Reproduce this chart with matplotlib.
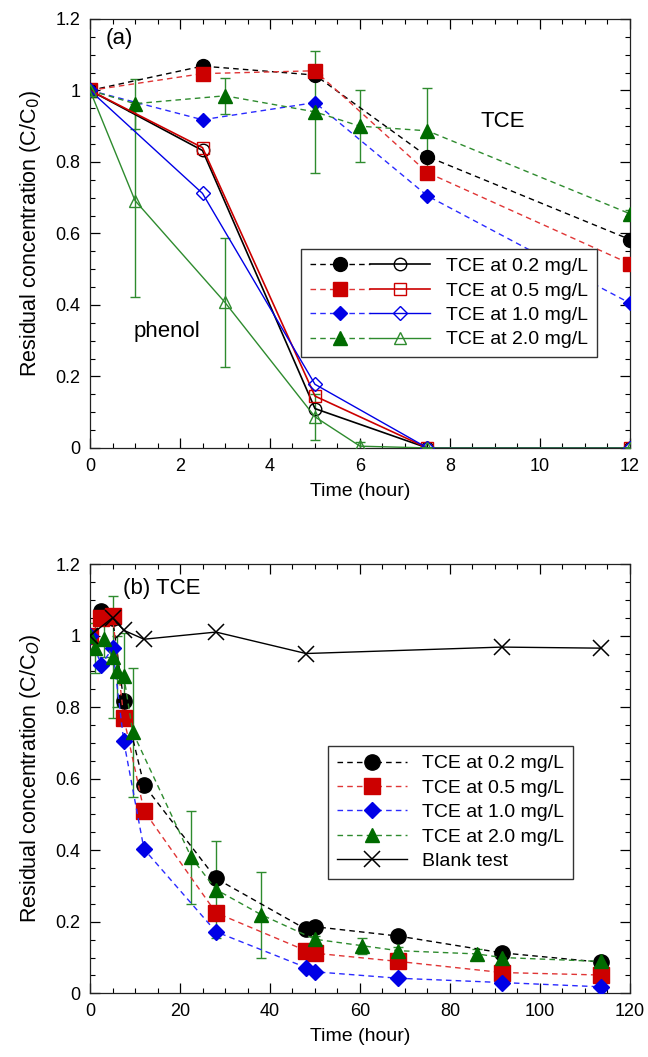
import numpy as np
import matplotlib
matplotlib.use("Agg")
import matplotlib.pyplot as plt
from matplotlib.legend_handler import HandlerTuple
from matplotlib.ticker import MultipleLocator, FormatStrFormatter

plt.rcParams['font.family'] = ['Liberation Sans', 'DejaVu Sans']

# ---- panel (a): TCE and phenol, 0-12 h ----
t_a = [0, 2.5, 5, 7.5, 12]
t_a_green = [0, 1, 3, 5, 6, 7.5, 12]

tce_02 = [1.0, 1.068, 1.043, 0.815, 0.583]
tce_05 = [1.0, 1.047, 1.055, 0.77, 0.515]
tce_10 = [1.0, 0.918, 0.966, 0.705, 0.405]
tce_20 = [1.0, 0.963, 0.985, 0.94, 0.90, 0.887, 0.655]
tce_20_err = [0, 0.07, 0.05, 0.17, 0.10, 0.12, 0.01]

phe_02 = [1.0, 0.832, 0.11, 0.0, 0.0]
phe_05 = [1.0, 0.84, 0.145, 0.0, 0.0]
phe_10 = [1.0, 0.712, 0.178, 0.0, 0.0]
phe_20 = [1.0, 0.692, 0.407, 0.087, 0.005, 0.0, 0.0]
phe_20_err = [0, 0.27, 0.18, 0.065, 0.012, 0, 0]

# ---- panel (b): TCE, 0-120 h ----
t_b = [0, 2.5, 5, 7.5, 12, 28, 48, 50, 68.5, 91.5, 113.5]
b_02 = [1.0, 1.07, 1.05, 0.817, 0.582, 0.321, 0.179, 0.186, 0.16, 0.113, 0.087]
b_05 = [1.0, 1.05, 1.055, 0.771, 0.51, 0.225, 0.119, 0.112, 0.089, 0.058, 0.051]
b_10 = [1.0, 0.918, 0.965, 0.705, 0.403, 0.172, 0.072, 0.06, 0.042, 0.03, 0.018]

t_b_green = [0, 1, 3, 5, 6, 7.5, 9.5, 22.5, 28, 38, 50, 60.5, 68.5, 86, 91.5, 113.5]
b_20 = [1.0, 0.965, 0.99, 0.94, 0.90, 0.888, 0.73, 0.38, 0.29, 0.22, 0.151, 0.133,
        0.119, 0.11, 0.10, 0.089]
b_20_err = [0, 0.07, 0.05, 0.17, 0.10, 0.12, 0.18, 0.13, 0.135, 0.12, 0.01, 0.022,
            0.01, 0.015, 0.005, 0.005]

t_blank = [0, 5, 7.5, 12, 28, 48, 91.5, 113.5]
blank = [1.0, 1.05, 1.015, 0.99, 1.01, 0.95, 0.968, 0.965]

BLACK = 'black'
RED = '#cc0000'
BLUE = '#0000e6'
GREEN = '#006b00'
GREEN_L = '#2e8b2e'
RED_L = '#e03535'
BLUE_L = '#2a2aff'
DASH = (0, (4, 3))


def style_axes(ax, xmaj, xmin, xmax):
    ax.set_xlim(0, xmax)
    ax.set_ylim(0, 1.2)
    ax.xaxis.set_major_locator(MultipleLocator(xmaj))
    ax.xaxis.set_minor_locator(MultipleLocator(xmin))
    ax.yaxis.set_major_locator(MultipleLocator(0.2))
    ax.yaxis.set_minor_locator(MultipleLocator(0.05))
    ax.yaxis.set_major_formatter(FormatStrFormatter('%g'))
    ax.xaxis.set_major_formatter(FormatStrFormatter('%g'))
    ax.tick_params(which='both', direction='in', top=True, right=True, labelsize=13)
    ax.tick_params(which='major', length=7, width=0.9, pad=7)
    ax.tick_params(which='minor', length=3.5, width=0.8)
    for s in ax.spines.values():
        s.set_linewidth(0.9)
        s.set_color('#222222')
    ax.set_xlabel('Time (hour)', fontsize=14, labelpad=6)


fig = plt.figure(figsize=(6.48, 10.57), dpi=100)
ax1 = fig.add_axes([0.1389, 0.5762, 0.8333, 0.4059])
ax2 = fig.add_axes([0.1389, 0.0603, 0.8333, 0.4060])

# ---------- panel (a) ----------
ms_f, ms_o = 10, 9
l02, = ax1.plot(t_a, tce_02, ls=DASH, color=BLACK, lw=1, marker='o', ms=ms_f, mfc=BLACK, mec=BLACK, zorder=4)
l05, = ax1.plot(t_a, tce_05, ls=DASH, color=RED_L, lw=1, marker='s', ms=ms_f - 0.5, mfc=RED, mec=RED, zorder=4)
l10, = ax1.plot(t_a, tce_10, ls=DASH, color=BLUE_L, lw=1, marker='D', ms=ms_f - 2.5, mfc=BLUE, mec=BLUE, zorder=4)
ax1.errorbar(t_a_green, tce_20, yerr=tce_20_err, fmt='none', ecolor=GREEN_L, elinewidth=1, capsize=3.5, zorder=3)
l20, = ax1.plot(t_a_green, tce_20, ls=DASH, color=GREEN_L, lw=1, marker='^', ms=ms_f, mfc=GREEN, mec=GREEN, zorder=4)

p02, = ax1.plot(t_a, phe_02, '-', color=BLACK, lw=1.2, marker='o', ms=ms_o, mfc='none', mec=BLACK, mew=1, zorder=4)
p05, = ax1.plot(t_a, phe_05, '-', color=RED, lw=1.2, marker='s', ms=ms_o - 0.5, mfc='none', mec=RED, mew=1, zorder=4)
p10, = ax1.plot(t_a, phe_10, '-', color=BLUE, lw=1, marker='D', ms=ms_o - 2, mfc='none', mec=BLUE, mew=1, zorder=4)
ax1.errorbar(t_a_green, phe_20, yerr=phe_20_err, fmt='none', ecolor=GREEN_L, elinewidth=1, capsize=3.5, zorder=3)
p20, = ax1.plot(t_a_green, phe_20, '-', color=GREEN_L, lw=1, marker='^', ms=ms_o, mfc='none', mec=GREEN_L, mew=1, zorder=4)

style_axes(ax1, 2, 0.5, 12)
ax1.set_ylabel('Residual concentration (C/C$_0$)', fontsize=15.5, labelpad=9)
ax1.text(0.65, 1.145, '(a)', fontsize=16, ha='center', va='center')
ax1.text(9.18, 0.913, 'TCE', fontsize=16, ha='center', va='center')
ax1.text(1.71, 0.325, 'phenol', fontsize=16, ha='center', va='center')

leg1 = ax1.legend([(l02, p02), (l05, p05), (l10, p10), (l20, p20)],
                  ['TCE at 0.2 mg/L', 'TCE at 0.5 mg/L', 'TCE at 1.0 mg/L', 'TCE at 2.0 mg/L'],
                  handler_map={tuple: HandlerTuple(ndivide=None, pad=0)},
                  loc='upper left', bbox_to_anchor=(0.391, 0.464), borderaxespad=0,
                  fontsize=14, handlelength=6.2, numpoints=1, fancybox=False,
                  edgecolor='#333333', framealpha=1, labelspacing=0.35, handletextpad=0.8,
                  borderpad=0.45)
leg1.get_frame().set_linewidth(1)

# ---------- panel (b) ----------
ms_b = 11
ax2.plot(t_b, b_02, ls=DASH, color=BLACK, lw=1, marker='o', ms=ms_b, mfc=BLACK, mec=BLACK, zorder=4,
         label='TCE at 0.2 mg/L')
ax2.plot(t_b, b_05, ls=DASH, color=RED_L, lw=1, marker='s', ms=ms_b, mfc=RED, mec=RED, zorder=4,
         label='TCE at 0.5 mg/L')
ax2.plot(t_b, b_10, ls=DASH, color=BLUE_L, lw=1, marker='D', ms=ms_b - 3, mfc=BLUE, mec=BLUE, zorder=4,
         label='TCE at 1.0 mg/L')
ax2.errorbar(t_b_green, b_20, yerr=b_20_err, fmt='none', ecolor=GREEN_L, elinewidth=1, capsize=3.5, zorder=3)
ax2.plot(t_b_green, b_20, ls=DASH, color=GREEN_L, lw=1, marker='^', ms=ms_b - 1, mfc=GREEN, mec=GREEN, zorder=4,
         label='TCE at 2.0 mg/L')
ax2.plot(t_blank, blank, '-', color=BLACK, lw=1, marker='x', ms=11, mew=1.1, zorder=5, label='Blank test')

style_axes(ax2, 20, 5, 120)
ax2.set_ylabel('Residual concentration (C/C$_O$)', fontsize=15.5, labelpad=9)
ax2.text(7.3, 1.132, '(b) TCE', fontsize=16, ha='left', va='center')

leg2 = ax2.legend(loc='upper left', bbox_to_anchor=(0.441, 0.576), borderaxespad=0,
                  fontsize=14, handlelength=3.6, numpoints=1, fancybox=False,
                  edgecolor='#333333', framealpha=1, labelspacing=0.35, handletextpad=0.8,
                  borderpad=0.45)
leg2.get_frame().set_linewidth(1)

fig.savefig('out.png', dpi=100)
